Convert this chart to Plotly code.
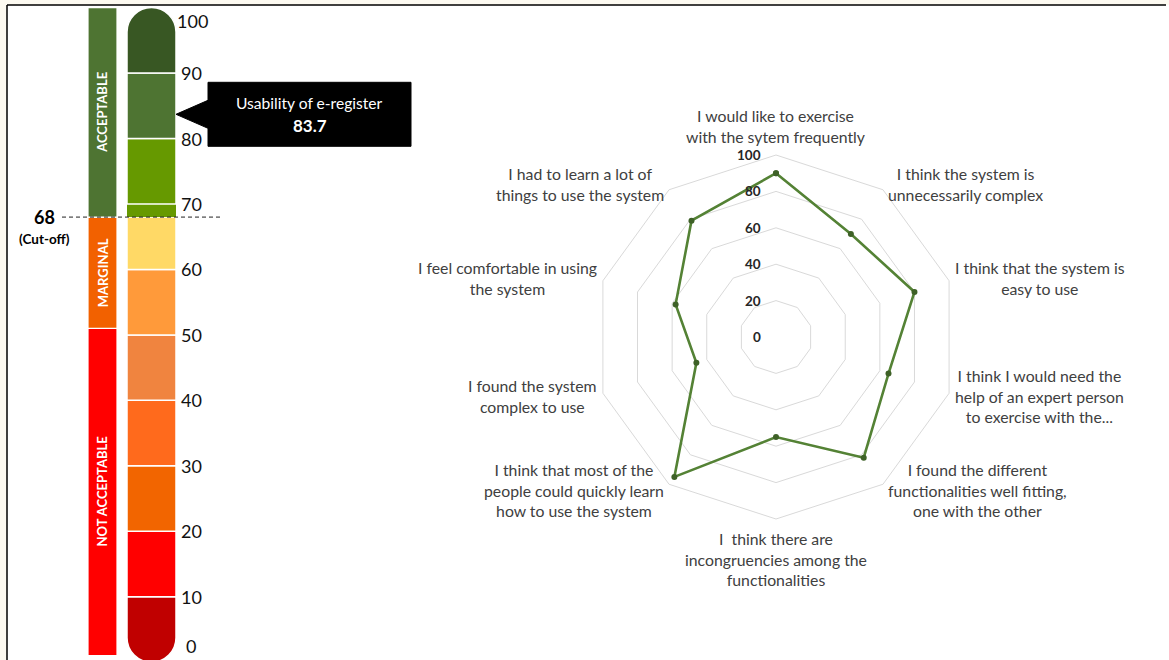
import math
import plotly.graph_objects as go

# ---------------- data ----------------
questions = [
    "I would like to exercise<br>with the sytem frequently",
    "I think the system is<br>unnecessarily complex",
    "I think that the system is<br>easy to use",
    "I think I would need the<br>help of an expert person<br>to exercise with the...",
    "I found the different<br>functionalities well fitting,<br>one with the other",
    "I\u00a0 think there are<br>incongruencies among the<br>functionalities",
    "I think that most of the<br>people could quickly learn<br>how to use the system",
    "I found the system<br>complex to use",
    "I feel comfortable in using<br>the system",
    "I had to learn a lot of<br>things to use the system",
]
scores = [90, 70, 80, 65, 82, 55, 95, 46, 58, 79]
radial_ticks = [0, 20, 40, 60, 80, 100]

sus_score = 83.7
gauge_title = "Usability of e-register"
cutoff = 68
cutoff_label = "(Cut-off)"
scale_bounds = [0, 10, 20, 30, 40, 50, 60, 68, 70, 80, 90, 100]
scale_colors = ["#C00000", "#FF0000", "#F26500", "#FF6A1C", "#F0843F",
                "#FF9A3A", "#FFD966", "#669900", "#669900", "#4E7432", "#385723"]
scale_ticks = [0, 10, 20, 30, 40, 50, 60, 70, 80, 90, 100]
band_names = ["NOT ACCEPTABLE", "MARGINAL", "ACCEPTABLE"]
band_bounds = [1, 51, 68, 100]
band_colors = ["#FF0000", "#F26100", "#4E7432"]

# ---------------- layout constants ----------------
W, H = 1169, 660
FONT = "Lato, Carlito, Calibri, sans-serif"
TXT = "#404040"
CREAM = "#FDFAF1"

# gauge value axis
Y_MIN, Y_MAX = 0.34, 101.16
PXU = H / (Y_MAX - Y_MIN)


def vpaper(v):
    return (v - Y_MIN) / (Y_MAX - Y_MIN)


# polar geometry (pixels)
CX, CY, R = 776, 337, 182
R_MAX = 100

fig = go.Figure()

fig.add_trace(go.Scatter(x=[None], y=[None], showlegend=False, hoverinfo="skip"))

# radar
fig.add_trace(go.Scatterpolar(
    r=scores + [scores[0]],
    theta=questions + [questions[0]],
    mode="lines+markers",
    line=dict(color="#548235", width=2.6),
    marker=dict(size=6, color="#3E6127"),
    showlegend=False,
    hoverinfo="skip",
))

shapes = []
annotations = []

# page frame
shapes.append(dict(type="rect", xref="paper", yref="paper",
                   x0=7 / W, x1=1.01, y0=-0.01, y1=1 - 5 / H,
                   fillcolor="white", line=dict(width=0), layer="below"))
shapes.append(dict(type="line", xref="paper", yref="paper",
                   x0=7 / W, x1=1166 / W, y0=1 - 5 / H, y1=1 - 5 / H,
                   line=dict(color="black", width=1.5), layer="below"))
shapes.append(dict(type="line", xref="paper", yref="paper",
                   x0=7 / W, x1=7 / W, y0=-0.01, y1=1 - 5 / H,
                   line=dict(color="black", width=1.5), layer="below"))

# thermometer
XL, XR = 127, 176
XC = (XL + XR) / 2
rad = (XR - XL) / 2
rv = rad / PXU
k = 0.5523
n = len(scale_colors)
for i, col in enumerate(scale_colors):
    y0, y1 = scale_bounds[i], scale_bounds[i + 1]
    if i == n - 1:
        p = (f"M{XL},{y0} L{XL},{y1 - rv} "
             f"C{XL},{y1 - rv + k * rv} {XC - k * rad},{y1} {XC},{y1} "
             f"C{XC + k * rad},{y1} {XR},{y1 - rv + k * rv} {XR},{y1 - rv} "
             f"L{XR},{y0} Z")
    elif i == 0:
        p = (f"M{XL},{y1} L{XL},{y0 + rv} "
             f"C{XL},{y0 + rv - k * rv} {XC - k * rad},{y0} {XC},{y0} "
             f"C{XC + k * rad},{y0} {XR},{y0 + rv - k * rv} {XR},{y0 + rv} "
             f"L{XR},{y1} Z")
    else:
        p = f"M{XL},{y0} L{XL},{y1} L{XR},{y1} L{XR},{y0} Z"
    lw = 0 if y0 == cutoff else 1.5
    shapes.append(dict(type="path", xref="x", yref="y", path=p,
                       fillcolor=col, line=dict(color="white", width=lw),
                       layer="above"))

# scale numbers
for v in scale_ticks:
    if v == max(scale_ticks):
        ya, xx, ys = "top", 175, 0
    elif v == min(scale_ticks):
        ya, xx, ys = "bottom", 184, 3
    else:
        ya, xx, ys = "middle", 179, 0
    annotations.append(dict(x=xx / W, y=vpaper(v), xref="paper", yref="paper", yshift=ys,
                            text=str(v), showarrow=False, xanchor="left", yanchor=ya,
                            font=dict(family=FONT, size=18, color="#111111")))

# acceptability band bar
BL, BR = 88, 117
for i, (name, col) in enumerate(zip(band_names, band_colors)):
    y0, y1 = band_bounds[i], band_bounds[i + 1]
    shapes.append(dict(type="rect", xref="x", yref="y", x0=BL, x1=BR, y0=y0, y1=y1,
                       fillcolor=col, line=dict(color="white", width=1.2), layer="above"))
    annotations.append(dict(x=(BL + BR) / 2, y=(y0 + y1) / 2, xref="x", yref="y",
                            text=f"<b>{name}</b>", showarrow=False, textangle=-90,
                            font=dict(family=FONT, size=13, color="white")))

# cut-off
shapes.append(dict(type="line", xref="x", yref="y", x0=62, x1=222, y0=cutoff, y1=cutoff,
                   line=dict(color="#222222", width=1, dash="4px,3px"), layer="above"))
annotations.append(dict(x=44, y=cutoff, xref="x", yref="y", text=f"<b>{cutoff}</b>",
                        showarrow=False, font=dict(family=FONT, size=18, color="black")))
annotations.append(dict(x=44, y=cutoff, xref="x", yref="y", yshift=-22,
                        text=f"<b>{cutoff_label}</b>", showarrow=False,
                        font=dict(family=FONT, size=13.5, color="black")))

# callout
RX0, RX1 = 208, 411
hh = 32 / PXU
ph = 14 / PXU
s = sus_score
callout = (f"M{XR},{s} L{RX0},{s + ph} L{RX0},{s + hh} L{RX1},{s + hh} "
           f"L{RX1},{s - hh} L{RX0},{s - hh} L{RX0},{s - ph} Z")
shapes.append(dict(type="path", xref="x", yref="y", path=callout,
                   fillcolor="black", line=dict(color="black", width=1), layer="above"))
annotations.append(dict(x=(RX0 + RX1) / 2, y=s, yshift=11, xref="x", yref="y",
                        text=gauge_title, showarrow=False,
                        font=dict(family=FONT, size=15.6, color="white")))
annotations.append(dict(x=(RX0 + RX1) / 2, y=s, yshift=-11, xref="x", yref="y",
                        text=f"<b>{s}</b>", showarrow=False,
                        font=dict(family=FONT, size=17, color="white")))

# radar radial value labels (left of the vertical axis)
for v in radial_ticks:
    py = CY - v / R_MAX * R
    annotations.append(dict(x=(CX - 13) / W, y=1 - py / H, xref="paper", yref="paper",
                            text=f"<b>{v}</b>", showarrow=False, xanchor="right",
                            yanchor="middle",
                            font=dict(family=FONT, size=13.5, color="#262626")))

# radar category labels
PADX, PADY = 4.5, 7.5
nq = len(questions)
for i, q in enumerate(questions):
    th = 2 * math.pi * i / nq
    sx, cy = math.sin(th), math.cos(th)
    px = CX + (R + PADX) * sx
    py = CY - (R + PADY) * cy
    xa = "left" if sx > 0.2 else ("right" if sx < -0.2 else "center")
    ya = "bottom" if cy > 0.9 else ("top" if cy < -0.9 else "middle")
    annotations.append(dict(x=px / W, y=1 - py / H, xref="paper", yref="paper",
                            text=q, showarrow=False, xanchor=xa, yanchor=ya,
                            align="center",
                            font=dict(family=FONT, size=15.8, color=TXT)))

fig.update_layout(
    width=W, height=H,
    margin=dict(l=0, r=0, t=0, b=0),
    paper_bgcolor=CREAM,
    plot_bgcolor="rgba(0,0,0,0)",
    showlegend=False,
    xaxis=dict(range=[0, W], domain=[0, 1], visible=False, fixedrange=True),
    yaxis=dict(range=[Y_MIN, Y_MAX], domain=[0, 1], visible=False, fixedrange=True),
    polar=dict(
        domain=dict(x=[(CX - R) / W, (CX + R) / W], y=[1 - (CY + R) / H, 1 - (CY - R) / H]),
        bgcolor="rgba(0,0,0,0)",
        gridshape="linear",
        angularaxis=dict(direction="clockwise", rotation=90, showticklabels=False,
                         ticks="", showgrid=False, showline=True,
                         linecolor="#D9D9D9", linewidth=1),
        radialaxis=dict(range=[0, R_MAX], tickvals=radial_ticks, showline=False, ticks="",
                        showticklabels=False,
                        gridcolor="#D9D9D9", gridwidth=1, angle=90),
    ),
    shapes=shapes,
    annotations=annotations,
)

fig.write_html("out.html", config={"displayModeBar": False},
               post_script="document.body.style.margin='0';document.body.style.overflow='hidden';")
